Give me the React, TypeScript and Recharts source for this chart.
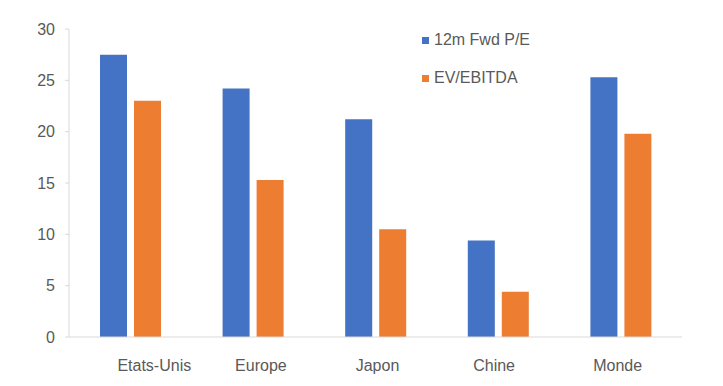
import { BarChart, Bar, XAxis, YAxis } from "recharts";

const regions = ["Etats-Unis", "Europe", "Japon", "Chine", "Monde"];
const fwdPE = [27.5, 24.2, 21.2, 9.4, 25.3];
const evEbitda = [23.0, 15.3, 10.5, 4.4, 19.8];
const yTicks = [0, 5, 10, 15, 20, 25, 30];

const data = regions.map((region, i) => ({
  region,
  pe: fwdPE[i],
  ev: evEbitda[i],
}));

const BLUE = "#4472C4";
const ORANGE = "#ED7D31";
const TEXT = "#595959";
const FONT = "'Liberation Sans', Arial, sans-serif";

// Excel shifted the category labels a bit to the right
const labelShift = [24, 8, 2, -4, -3];

const CategoryTick = (props: any) => {
  const { x, y, payload, index } = props;
  return (
    <text
      x={x + (labelShift[index] ?? 0)}
      y={y}
      dy={26}
      textAnchor="middle"
      fill={TEXT}
      fontSize={16}
      fontFamily={FONT}
    >
      {payload.value}
    </text>
  );
};

const LegendBox = () => {
  const items = [
    { label: "12m Fwd P/E", color: BLUE },
    { label: "EV/EBITDA", color: ORANGE },
  ];
  return (
    <div
      style={{
        position: "absolute",
        left: 422,
        top: 21,
        fontFamily: FONT,
        fontSize: 16,
        color: TEXT,
      }}
    >
      {items.map((it) => (
        <div
          key={it.label}
          style={{ display: "flex", alignItems: "center", height: 38 }}
        >
          <span
            style={{
              display: "inline-block",
              width: 7,
              height: 7,
              background: it.color,
              marginRight: 5,
            }}
          />
          <span>{it.label}</span>
        </div>
      ))}
    </div>
  );
};

export default function App() {
  return (
    <div
      style={{
        position: "absolute",
        left: 0,
        top: 0,
        width: 723,
        height: 386,
        background: "#fff",
      }}
    >
      <BarChart
        width={723}
        height={386}
        data={data}
        margin={{ top: 29, right: 41, left: 9, bottom: 19 }}
        barSize={27}
        barGap={7}
      >
        <XAxis
          dataKey="region"
          tickLine={false}
          axisLine={{ stroke: "#d9d9d9" }}
          tick={<CategoryTick />}
          height={30}
          interval={0}
        />
        <YAxis
          domain={[0, 30]}
          ticks={yTicks}
          width={60}
          tickSize={4}
          tickMargin={10}
          axisLine={{ stroke: "#d9d9d9" }}
          tickLine={{ stroke: "#d9d9d9" }}
          tick={{ fill: TEXT, fontSize: 16, fontFamily: FONT }}
          interval={0}
        />
        <Bar dataKey="pe" name="12m Fwd P/E" fill={BLUE} isAnimationActive={false} />
        <Bar dataKey="ev" name="EV/EBITDA" fill={ORANGE} isAnimationActive={false} />
      </BarChart>
      <LegendBox />
    </div>
  );
}
